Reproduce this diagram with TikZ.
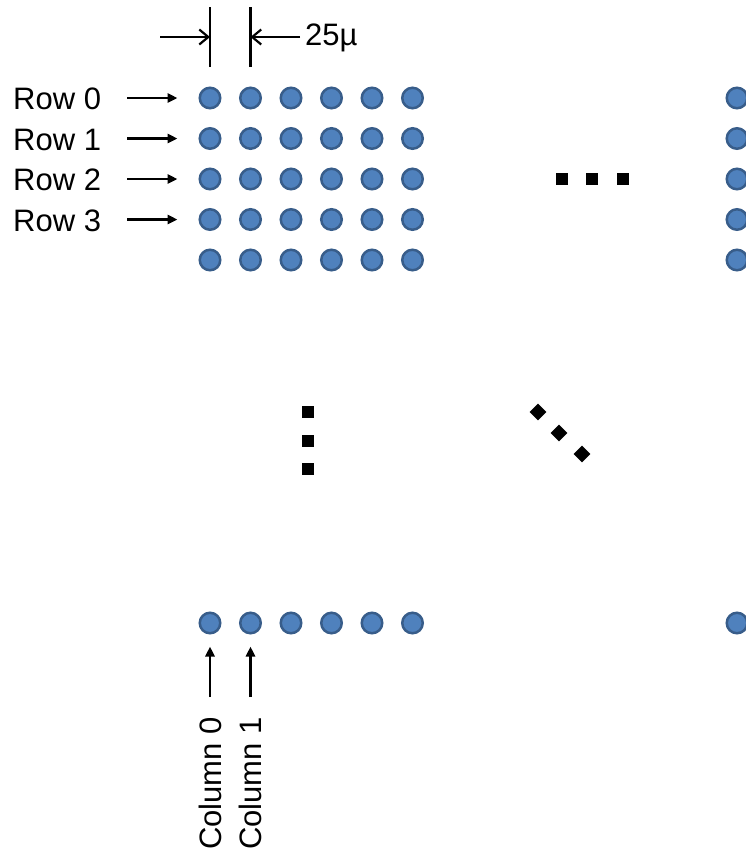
\documentclass[tikz,border=0pt]{standalone}
\usepackage{fontspec}
\setmainfont{Liberation Sans}
\usetikzlibrary{arrows.meta}

\definecolor{dotblue}{HTML}{4F81BD}
\definecolor{dotedge}{HTML}{385D8A}

\begin{document}
\begin{tikzpicture}[x=1pt, y=-1pt,
    pix/.style={circle, draw=dotedge, fill=dotblue, line width=2.5pt, minimum size=20.5pt, inner sep=0pt},
    lbl/.style={inner sep=0pt, font=\fontsize{31}{37}\selectfont},
    sq/.style={fill=black, minimum size=12pt, inner sep=0pt},
    tagarrow/.style={line width=2.5pt, -{Triangle[length=10pt,width=9pt]}},
    dimarrow/.style={line width=2.2pt, -{Straight Barb[length=9pt,width=15pt]}}]
  \clip (0,0) rectangle (746,852);
  % pixel array, top rows
  \foreach \r in {0,...,4} {
    \foreach \c in {0,...,5}
      \node[pix] (d-\r-\c) at ({210+40.5*\c},{98+40.5*\r}) {};
    \node[pix] (e-\r) at (737,{98+40.5*\r}) {};
  }
  % last row
  \foreach \c in {0,...,5}
    \node[pix] (b-\c) at ({210+40.5*\c},623) {};
  \node[pix] (b-e) at (737,623) {};
  % row labels
  \foreach \r in {0,...,3} {
    \node[lbl, anchor=base west] (row\r) at (13,{109.5+40.5*\r}) {Row \r};
    \draw[tagarrow, shorten <=26pt, shorten >=21pt] (d-\r-0.west -| row\r.east) -- (d-\r-0.west);
  }
  % column labels
  \foreach \c in {0,1} {
    \node[lbl, rotate=90, anchor=east] (col\c) at ({210+40.5*\c},717) {Column \c};
    \draw[tagarrow, shorten <=20pt, shorten >=12pt] (col\c.east) -- (b-\c.south);
  }
  % pitch
  \draw[line width=2.2pt] (d-0-0 |- 0,7) -- (d-0-0 |- 0,67);
  \draw[line width=2.2pt] (d-0-1 |- 0,7) -- (d-0-1 |- 0,67);
  \coordinate (pitchL) at (160,37);
  \node[lbl, anchor=west] (pitch) at (305,38) {25µ};
  \draw[dimarrow] (pitchL) -- (d-0-0 |- pitchL);
  \draw[dimarrow, shorten <=5pt] (pitch.west |- pitchL) -- (d-0-1 |- pitchL);
  % ellipses
  \foreach \x [count=\i] in {562,592,623}
    \node[sq] (hdot\i) at (\x,179) {};
  \foreach \y [count=\i] in {412,441,469}
    \node[sq] (vdot\i) at (308,\y) {};
  \foreach \x/\y [count=\i] in {538/412,559/433,582/454}
    \node[sq, rotate=45] (ddot\i) at (\x,\y) {};
\end{tikzpicture}
\end{document}
